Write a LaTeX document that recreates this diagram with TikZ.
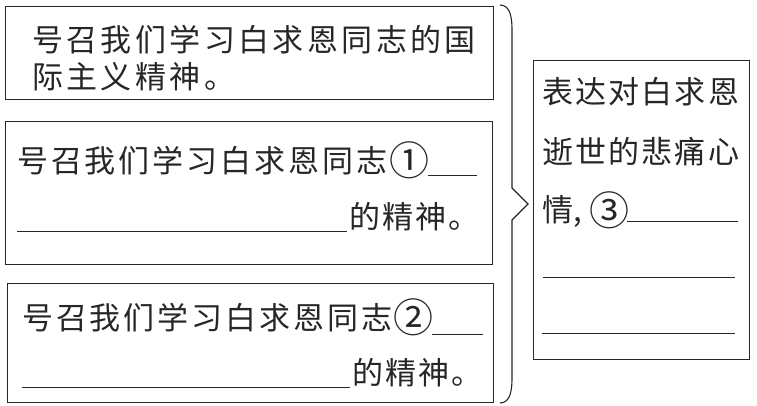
\documentclass[tikz,border=0pt]{standalone}
\usepackage{fontspec}
\newfontfamily\cjk{Noto Sans CJK SC}
\definecolor{ink}{HTML}{262626}
\makeatletter
\newcommand\spchars[2]{\@tfor\sp@ch:=#2\do{\makebox[#1][l]{\sp@ch}}}
\makeatother
\begin{document}
\begin{tikzpicture}[x=1pt,y=-1pt,
  frame/.style={draw=ink,line width=1.1pt},
  blank/.style={draw=ink,line width=1pt},
  txt/.style={anchor=base west,inner sep=0pt,text=ink,font=\cjk\fontsize{31pt}{31pt}\selectfont},
  circ/.style={anchor=center,inner sep=0pt,text=ink,font=\cjk\fontsize{40pt}{40pt}\selectfont}]
\useasboundingbox (0,0) rectangle (757,406);
% boxes
\node[frame,minimum width=488pt,minimum height=93pt,anchor=north west,inner sep=0pt] (b1) at (5,6) {};
\node[frame,minimum width=487pt,minimum height=143pt,anchor=north west,inner sep=0pt] (b2) at (5,121) {};
\node[frame,minimum width=486pt,minimum height=119pt,anchor=north west,inner sep=0pt] (b3) at (7,283) {};
\node[frame,minimum width=216pt,minimum height=299pt,anchor=north west,inner sep=0pt] (b4) at (533,60) {};
% box 1 text
\node[txt] (t11) at (32,52) {\spchars{34.4pt}{号召我们学习白求恩同志的国}};
\node[txt] (t12) at (32,89) {\spchars{34.4pt}{际主义精神。}};
% box 2 text
\node[txt] (t21) at (17,172) {\spchars{33.9pt}{号召我们学习白求恩同志}};
\node[circ] (c1) at (409,160) {①};
\draw[blank] (428,176) -- (477,176);
\draw[blank] (17,231) -- (347,231);
\node[txt] (t22) at (349,228) {\spchars{33pt}{的精神。}};
% box 3 text
\node[txt] (t31) at (22,329) {\spchars{33.9pt}{号召我们学习白求恩同志}};
\node[circ] (c2) at (413,317) {②};
\draw[blank] (432,334) -- (483,334);
\draw[blank] (22,387) -- (350,387);
\node[txt] (t32) at (352,384) {\spchars{33pt}{的精神。}};
% right box text
\node[txt] (r1) at (542,104) {\spchars{33.2pt}{表达对白求恩}};
\node[txt] (r2) at (542,164) {\spchars{33.2pt}{逝世的悲痛心}};
\node[txt] (r3) at (542,221) {情,};
\node[circ] (c3) at (609,210) {③};
\draw[blank] (627,221) -- (738,221);
\draw[blank] (543,277) -- (735,277);
\draw[blank] (542,333) -- (735,333);
% brace
\coordinate (bt) at (500,5);
\coordinate (bb) at (500,403);
\coordinate (tip) at (528,204);
\draw[frame] (bt) to[out=0,in=90] (512,30) -- (512,188) -- (tip) -- (512,220) -- (512,378) to[out=-90,in=0] (bb);
\end{tikzpicture}
\end{document}
